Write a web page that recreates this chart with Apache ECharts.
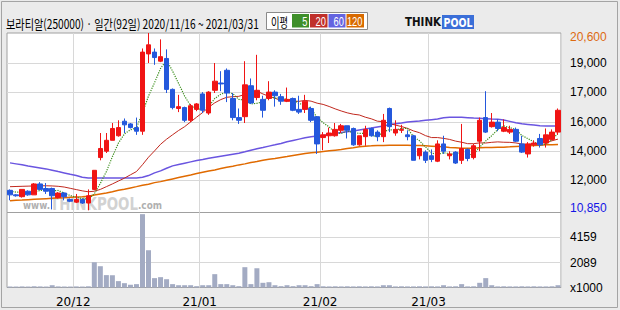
<!DOCTYPE html>
<html><head><meta charset="utf-8">
<script src="https://cdn.jsdelivr.net/npm/echarts@6/dist/echarts.min.js"></script>
<style>html,body{margin:0;padding:0;background:#ebebeb;}#c{width:620px;height:310px;}</style>
</head><body><div id="c"></div>
<script>
const dates = ['20/11/16','20/11/17','20/11/18','20/11/19','20/11/20','20/11/23','20/11/24','20/11/25','20/11/26','20/11/27','20/11/30',
'20/12/01','20/12/02','20/12/03','20/12/04','20/12/07','20/12/08','20/12/09','20/12/10','20/12/11','20/12/14','20/12/15','20/12/16','20/12/17','20/12/18','20/12/21','20/12/22','20/12/23','20/12/24','20/12/28','20/12/29','20/12/30',
'21/01/04','21/01/05','21/01/06','21/01/07','21/01/08','21/01/11','21/01/12','21/01/13','21/01/14','21/01/15','21/01/18','21/01/19','21/01/20','21/01/21','21/01/22','21/01/25','21/01/26','21/01/27','21/01/28','21/01/29',
'21/02/01','21/02/02','21/02/03','21/02/04','21/02/05','21/02/08','21/02/09','21/02/10','21/02/15','21/02/16','21/02/17','21/02/18','21/02/19','21/02/22','21/02/23','21/02/24','21/02/25','21/02/26',
'21/03/02','21/03/03','21/03/04','21/03/05','21/03/08','21/03/09','21/03/10','21/03/11','21/03/12','21/03/15','21/03/16','21/03/17','21/03/18','21/03/19','21/03/22','21/03/23','21/03/24','21/03/25','21/03/26','21/03/29','21/03/30','21/03/31'];

const openP = [11950,11700,11600,11900,11700,12300,12050,12050,11550,11800,
11450,11300,11450,11250,12000,13750,14100,14700,14950,15750,
15600,15400,15200,19450,19550,19050,19200,17500,16450,16500,
15800,16400,17250,16200,17450,17850,18550,17000,15950,16000,
17700,17050,16950,17000,17350,17100,16850,17000,16400,16400,
16450,16000,14850,14950,14950,15250,15500,15350,14450,14900,
15350,15150,14900,16450,15100,15250,15000,14950,13850,14050,
13850,13550,14500,13850,14050,13600,14200,13750,14650,15950,
15450,15700,15200,15150,15300,14500,13950,14450,14800,14550,
14750,15150];
const closeP = [11700,11650,12000,11700,12300,12000,11900,11650,11800,11600,
11350,11450,11250,11650,13050,14250,14700,15350,15400,15550,
15400,15200,19550,19950,19250,19300,17500,16500,16550,15800,
16600,16700,16350,17350,17950,17800,17300,15950,15800,17750,
16750,17450,16350,17350,17150,16850,16950,16350,16250,16850,
15800,14500,15000,15100,15300,15500,15250,14450,14950,15300,
14950,14900,15800,15450,15300,15300,14900,13600,14250,13600,
13650,14500,14100,13950,13450,14250,13700,14400,15800,15150,
15700,15350,15400,15300,14650,14050,14500,14550,14450,15000,
15150,16350];
const lowP = [11400,11600,11550,11650,11700,11950,11750,10900,11500,11400,
11300,11250,11200,10850,11950,13600,14000,14700,14900,15100,
15350,15000,15000,18950,18850,19000,17300,16400,16250,15700,
15700,16300,16200,16100,17300,17400,16800,15800,15600,15650,
16700,16900,15950,16900,16550,16650,16800,16300,16150,16200,
15700,13950,14150,14550,14900,15100,14800,14400,14400,14400,
14900,14650,14600,15150,14950,15100,14700,13600,13650,13450,
13500,13500,13950,13650,13400,13400,13550,13650,14100,15100,
15400,15200,15150,15050,14600,14000,13750,14350,14300,14300,
14700,15000];
const highP = [12000,11750,12000,11950,12350,12400,12350,12100,11850,11850,
11500,11750,11500,12000,13050,15100,15100,15650,15800,15900,
15650,15950,19750,20600,19750,20250,19700,17550,17200,16550,
16700,16750,17350,17400,18950,18500,18650,17300,16450,19050,
18100,19400,17150,17950,17450,17250,17600,17050,17150,17200,
16550,16000,15150,15400,15650,15600,15500,15400,14950,15500,
15400,15250,16150,16500,15800,15550,15250,15000,14250,14150,
14200,14700,14950,14100,14100,15600,14250,14500,15950,17400,
16200,15850,15850,15500,15400,14950,14600,14700,15050,15350,
15300,16450];
// volume, thousands of shares
const volume = [90,80,90,80,100,90,80,190,90,80,
80,90,80,100,2100,1770,1030,1020,530,360,
220,280,6100,3100,780,860,690,280,190,190,
190,110,190,190,1110,280,280,190,110,1690,
280,1610,390,440,190,110,190,110,190,190,
110,280,100,90,100,90,100,90,100,90,
100,90,190,190,90,100,90,90,100,90,
100,90,190,90,100,280,90,100,390,780,
190,90,100,90,90,100,90,100,90,90,
100,190];
const ma5 = [11900,11850,11850,11800,11874,11934,11988,11918,11942,11794,
11662,11574,11496,11460,11754,12332,12980,13796,14546,15050,
15278,15380,16220,17132,17868,18652,19110,18503,17823,17129,
16591,16429,16404,16566,16996,17232,17350,17264,16948,16911,
16697,16733,16819,17135,17018,17044,16940,16940,16718,16652,
16436,15944,15667,15433,15131,15071,15225,15114,15084,15084,
14974,14900,15176,15279,15275,15349,15351,14910,14671,14332,
14004,13922,14021,13959,13930,14048,13886,13948,14323,14665,
14955,15293,15493,15394,15294,14967,14791,14614,14437,14500,
14717,15092];
const ma20 = [12150,12160,12170,12180,12190,12200,12200,12190,12170,12130,
12060,11990,11920,11870,11900,12000,12150,12300,12460,12618,
12802,12981,13358,13770,14117,14481,14761,15004,15240,15450,
15713,15975,16231,16517,16761,16938,17067,17098,17117,17226,
17293,17406,17248,17118,17014,16891,16863,16857,16842,16894,
16852,16742,16673,16559,16428,16312,16211,16135,16093,15971,
15881,15752,15724,15629,15536,15458,15355,15217,15117,14956,
14850,14850,14805,14748,14655,14594,14515,14514,14558,14551,
14589,14613,14593,14587,14555,14494,14473,14519,14528,14597,
14672,14766];
const ma60 = [13459,13404,13350,13293,13238,13183,13128,13054,12980,12907,
12833,12760,12668,12631,12631,12631,12631,12631,12631,12631,
12631,12631,12668,12760,12907,13017,13164,13293,13367,13440,
13514,13588,13643,13716,13772,13827,13882,13937,13992,14066,
14158,14232,14305,14379,14452,14526,14618,14692,14765,14839,
14894,14931,14968,15023,15078,15133,15170,15207,15262,15317,
15372,15428,15483,15556,15612,15648,15704,15740,15759,15796,
15832,15869,15943,15961,15961,15961,15943,15924,15906,15888,
15869,15851,15814,15740,15667,15612,15575,15538,15501,15483,
15483,15483];
const ma120 = [11380,11398,11416,11435,11453,11472,11490,11508,11527,11545,
11564,11582,11600,11619,11692,11748,11803,11876,11950,12005,
12079,12152,12226,12281,12373,12428,12502,12575,12649,12723,
12796,12870,12944,13017,13072,13146,13220,13275,13348,13404,
13477,13532,13606,13661,13698,13753,13808,13864,13919,13974,
14011,14048,14084,14121,14158,14195,14250,14287,14342,14379,
14397,14416,14416,14434,14434,14434,14434,14416,14416,14397,
14379,14361,14342,14305,14287,14268,14268,14268,14287,14305,
14305,14324,14324,14342,14361,14379,14397,14416,14434,14452,
14452,14471];

const priceGridValues = [12500,14095,15706,17339,18934];
const priceLabelValues = [10850,12500,14095,15706,17339,18934,20600];
const priceLabels = ['10,850','12,000','14,000','16,000','17,000','19,000','20,600'];
const volGridValues = [2079,4159];
const volLabelValues = [0,2079,4159];
const volLabels = ['x1000','2089','4159'];
const titleText = '보라티알(250000) · 일간(92일) 2020/11/16 ~ 2021/03/31';
const maNames = ['5','20','60','120'];

const RED = '#f01414', BLUE = '#2458dc';
const C_MA5 = '#3d8f1e', C_MA20 = '#c0281e', C_MA60 = '#6a55e0', C_MA120 = '#e06a00';
const L_MA5 = '#3f8f2a', L_MA20 = '#c0302a', L_MA60 = '#6464e0', L_MA120 = '#d86a00';

function fit(text, font, target){
  const ctx = document.createElement('canvas').getContext('2d');
  ctx.font = font;
  return target / ctx.measureText(text).width;
}
const monthStart = (i) => i > 0 && dates[i].slice(0,5) !== dates[i-1].slice(0,5);

const KR = '"Noto Sans CJK KR"';
const titleFont = '13px ' + KR;
const legFont = '13px ' + KR;
const numFont = '13px "Liberation Sans"';
const logoFont = 'bold 13px "DejaVu Sans"';
const wmFont = 'bold 18px "DejaVu Sans"';
const wmSmall = 'bold 11px "DejaVu Sans"';

const chart = echarts.init(document.getElementById('c'), null, {renderer:'svg', width:620, height:310});

const candle = dates.map((d,i)=>[openP[i], closeP[i], lowP[i], highP[i]]);

const gridLine = {show:true, lineStyle:{color:'#d8d8d8', width:1}};
const legBoxes = [
  {x:292, w:17, c:L_MA5}, {x:310, w:17.5, c:L_MA20}, {x:328.5, w:17, c:L_MA60}, {x:346.5, w:17.5, c:L_MA120}
];

const graphic = [
  {type:'rect', z:100, silent:true, shape:{x:1.5,y:1.5,width:616,height:306}, style:{fill:'none', stroke:'#a4a4a4', lineWidth:1}},
  {type:'text', z:100, x:6, y:22.5, scaleX: fit(titleText, titleFont, 253), style:{text:titleText, font:titleFont, fill:'#000', verticalAlign:'middle'}},
  {type:'rect', z:100, shape:{x:266.5,y:12.5,width:101,height:17}, style:{fill:'#fff', stroke:'#8a8a8a', lineWidth:1}},
  {type:'text', z:101, x:271, y:21.5, scaleX: fit('이평', legFont, 17), style:{text:'이평', font:legFont, fill:'#000', verticalAlign:'middle'}},
  {type:'text', z:101, x:405, y:22, scaleX: fit('THINK', logoFont, 36), style:{text:'THINK', font:logoFont, fill:'#111', verticalAlign:'middle'}},
  {type:'rect', z:100, shape:{x:442,y:15,width:32,height:14}, style:{fill:'#3b6fd8'}},
  {type:'text', z:101, x:443.5, y:22, scaleX: fit('POOL', logoFont, 29), style:{text:'POOL', font:logoFont, fill:'#fff', verticalAlign:'middle'}},
  {type:'text', z:1, x:23, y:205, scaleX: fit('www.', wmSmall, 27), style:{text:'www.', font:wmSmall, fill:'#b0b0b0', verticalAlign:'middle'}},
  {type:'text', z:1, x:50, y:203.5, scaleX: fit('THINKPOOL', wmFont, 88), style:{text:'THINKPOOL', font:wmFont, fill:'#d2d2d2', verticalAlign:'middle'}},
  {type:'text', z:1, x:138, y:205, scaleX: fit('.com', wmSmall, 24), style:{text:'.com', font:wmSmall, fill:'#b0b0b0', verticalAlign:'middle'}}
];
legBoxes.forEach((b,k)=>{
  graphic.push({type:'rect', z:101, shape:{x:b.x,y:14,width:b.w,height:13.5}, style:{fill:b.c}});
  graphic.push({type:'text', z:102, x:b.x+b.w-1.5, y:21, scaleX: Math.min(1, fit(maNames[k], numFont, maNames[k].length*5.2)), style:{text:maNames[k], font:numFont, fill:'#fff', align:'right', verticalAlign:'middle'}});
});

const option = {
  animation:false,
  backgroundColor:'#ebebeb',
  grid:[
    {left:7, top:33, width:554, height:179.5, show:true, backgroundColor:'#fff', borderColor:'#a0a0a0', borderWidth:1},
    {left:7, top:212.5, width:554, height:75, show:true, backgroundColor:'#fff', borderColor:'#a0a0a0', borderWidth:1}
  ],
  xAxis:[
    {type:'category', gridIndex:0, data:dates, boundaryGap:true, axisLine:{show:false}, axisTick:{show:false},
     axisLabel:{show:false}, splitLine:{show:true, interval:(i)=>monthStart(i), lineStyle:{color:'#d8d8d8'}}},
    {type:'category', gridIndex:1, data:dates, boundaryGap:true, axisLine:{show:false}, axisTick:{show:false},
     axisLabel:{show:true, interval:(i)=>monthStart(i), formatter:(v)=>v.slice(0,5), fontFamily:'DejaVu Sans', fontSize:12, color:'#000', margin:8, padding:[0,6,0,0]},
     splitLine:{show:true, interval:(i)=>monthStart(i), lineStyle:{color:'#d8d8d8'}}}
  ],
  yAxis:[
    {type:'value', gridIndex:0, position:'right', min:10730, max:20600,
     axisLine:{show:false}, axisTick:{show:false, customValues:priceGridValues},
     splitLine:gridLine,
     axisLabel:{show:true, customValues:priceLabelValues, margin:9, align:'left', fontFamily:'Liberation Sans', fontSize:12, color:'#000',
       formatter:(v)=>{const k=priceLabelValues.indexOf(v); if(k<0) return ''; const t=priceLabels[k];
         if(k===priceLabelValues.length-1) return '{top|'+t+'}'; if(k===0) return '{bot|'+t+'}'; return t;},
       rich:{top:{color:'#dd6a10', padding:[8,0,0,0], fontFamily:'Liberation Sans', fontSize:12},
             bot:{color:'#1414e6', padding:[0,0,5,0], fontFamily:'Liberation Sans', fontSize:12}}}},
    {type:'value', gridIndex:1, position:'right', min:0, max:6238,
     axisLine:{show:false}, axisTick:{show:false, customValues:volGridValues},
     splitLine:gridLine,
     axisLabel:{show:true, customValues:volLabelValues, margin:9, align:'left', fontFamily:'Liberation Sans', fontSize:12, color:'#000',
       formatter:(v)=>{const k=volLabelValues.indexOf(v); return k<0?'':volLabels[k];}}}
  ],
  series:[
    {type:'line', name:'MA120', xAxisIndex:0, yAxisIndex:0, data:ma120, symbol:'none', z:2, lineStyle:{color:C_MA120, width:1.5}},
    {type:'line', name:'MA60', xAxisIndex:0, yAxisIndex:0, data:ma60, symbol:'none', z:2, lineStyle:{color:C_MA60, width:1.5}},
    {type:'line', name:'MA20', xAxisIndex:0, yAxisIndex:0, data:ma20, symbol:'none', z:2, lineStyle:{color:C_MA20, width:1}},
    {type:'line', name:'MA5', xAxisIndex:0, yAxisIndex:0, data:ma5, symbol:'none', z:2, lineStyle:{color:C_MA5, width:1.2, type:'dotted'}},
    {type:'candlestick', xAxisIndex:0, yAxisIndex:0, data:candle, barWidth:5, z:3,
     itemStyle:{color:RED, color0:BLUE, borderColor:RED, borderColor0:BLUE, borderWidth:1}},
    {type:'bar', xAxisIndex:1, yAxisIndex:1, data:volume, barWidth:5, itemStyle:{color:'#a3abc3'}}
  ],
  graphic: graphic
};
chart.setOption(option);
</script>
</body></html>
